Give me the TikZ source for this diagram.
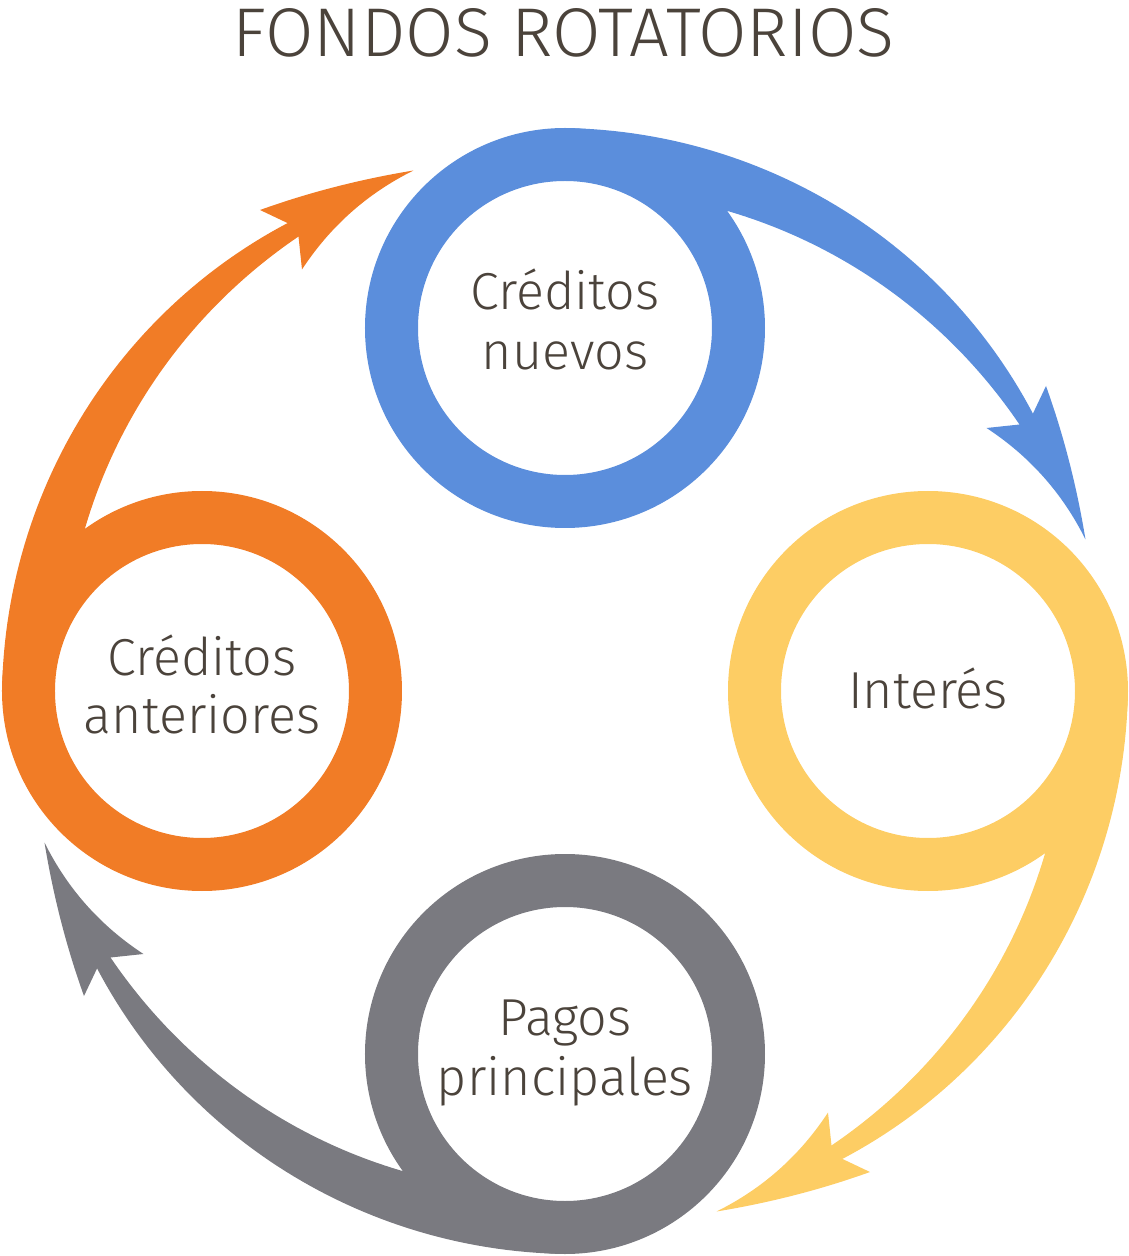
\documentclass[tikz,border=0pt]{standalone}
\usepackage{fontspec}
\setmainfont{Fira Sans Light}
\usepackage{graphicx}
\definecolor{cblue}{RGB}{91,142,220}
\definecolor{cyellow}{RGB}{253,205,100}
\definecolor{cgray}{RGB}{122,122,128}
\definecolor{corange}{RGB}{241,124,38}
\definecolor{ctext}{RGB}{75,67,59}
\tikzset{
  lbl/.style={text=ctext, inner sep=0pt, anchor=base, font=\fontsize{52}{60}\selectfont},
}
\begin{document}
\begin{tikzpicture}[x=1pt,y=1pt]
\useasboundingbox (-565,-565) rectangle (563,691);
\foreach \ang/\col in {0/cblue,-90/cyellow,-180/cgray,-270/corange}{
  \begin{scope}[rotate=\ang]
    % ring
    \fill[\col, even odd rule] (0,363) circle[radius=200] (0,363) circle[radius=147];
    % swoosh with arrow head
    \fill[\col]
      plot[domain=90:30.66, samples=60, variable=\t]
        ({\t}:{563-19*(0.5*((90-\t)/59.34)+0.5*((90-\t)/59.34)^2)})
      -- (481,305)
      .. controls (499,255) and (512,203.4) .. (520.5,151.5)
      .. controls (497.6,197.7) and (464.6,234.8) .. (421.5,263)
      -- (454.5,266.5)
      -- plot[domain=30.38:71.3, samples=60, variable=\t]
        ({\t}:{506.8+0.38*(71.3-\t)+0.0027*(71.3-\t)^2})
      -- plot[domain=35.8:90, samples=40, variable=\t]
        ({175*cos(\t)},{363+175*sin(\t)})
      -- cycle;
  \end{scope}
}
% title
\node[text=ctext, inner sep=0pt, anchor=base] (title) at (-1.5,634.3)
  {\resizebox{662pt}{48pt}{\fontsize{68}{70}\selectfont FONDOS ROTATORIOS}};
% labels
\node[lbl] (cn1) at (0,381) {Créditos};
\node[lbl] (cn2) at (0,321) {nuevos};
\node[lbl] (int) at (363,-17) {Interés};
\node[lbl] (pp1) at (0,-344) {Pagos};
\node[lbl] (pp2) at (0,-404) {principales};
\node[lbl] (ca1) at (-363,16) {Créditos};
\node[lbl] (ca2) at (-363,-42) {anteriores};
\end{tikzpicture}
\end{document}
